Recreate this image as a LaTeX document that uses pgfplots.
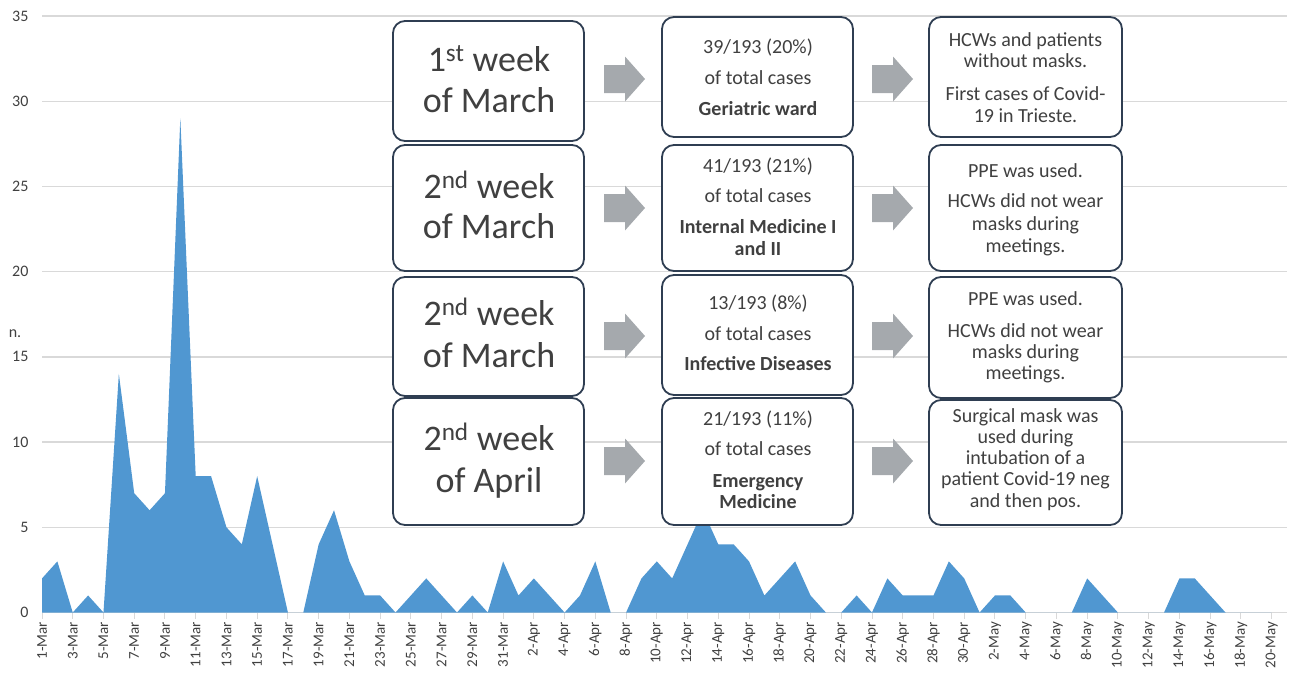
\documentclass[border=0pt]{standalone}
\usepackage{pgfplots}
\pgfplotsset{compat=1.18}
\usepackage{fontspec}
\setmainfont{Carlito}
\definecolor{areablue}{HTML}{5097D1}
\definecolor{gridc}{HTML}{D9D9D9}
\definecolor{txt}{HTML}{404040}
\definecolor{boxc}{HTML}{2F3E52}
\definecolor{arrc}{HTML}{A5A9AD}
\newcommand\T[3]{\node[anchor=base, text=txt, inner sep=0pt] at (#1pt,-#2pt) {#3};}
\newcommand\RBox[4]{\draw[boxc, line width=1.8pt, rounded corners=12pt, fill=white] (#1pt,-#2pt) rectangle (#3pt,-#4pt);}
\newcommand\Arr[2]{\fill[arrc] (#1pt,{-(#2-14)*1pt}) -- ({(#1+21)*1pt},{-(#2-14)*1pt}) -- ({(#1+21)*1pt},{-(#2-22.5)*1pt}) -- ({(#1+41)*1pt},-#2pt) -- ({(#1+21)*1pt},{-(#2+22.5)*1pt}) -- ({(#1+21)*1pt},{-(#2+14)*1pt}) -- (#1pt,{-(#2+14)*1pt}) -- cycle;}
\begin{document}
\begin{tikzpicture}
\useasboundingbox (0,0) rectangle (1292pt,-672pt);
\begin{axis}[
  at={(42pt,-612.5pt)}, anchor=south west,
  scale only axis, width=1245pt, height=596.5pt,
  xmin=0, xmax=81, ymin=0, ymax=35,
  ytick={0,5,...,35},
  xtick={0,2,...,80},
  xticklabels={1-Mar,3-Mar,5-Mar,7-Mar,9-Mar,11-Mar,13-Mar,15-Mar,17-Mar,19-Mar,21-Mar,23-Mar,25-Mar,27-Mar,29-Mar,31-Mar,2-Apr,4-Apr,6-Apr,8-Apr,10-Apr,12-Apr,14-Apr,16-Apr,18-Apr,20-Apr,22-Apr,24-Apr,26-Apr,28-Apr,30-Apr,2-May,4-May,6-May,8-May,10-May,12-May,14-May,16-May,18-May,20-May},
  ymajorgrids, grid style={gridc, line width=1.3pt},
  axis line style={draw=none},
  xtick pos=bottom, tick align=outside,
  major tick length=6pt,
  xtick style={gridc, line width=1pt},
  ytick style={draw=none},
  xticklabel style={rotate=90, anchor=east, font=\fontsize{15}{15}\selectfont, text=txt},
  yticklabel style={font=\fontsize{16}{16}\selectfont, text=txt, xshift=-4pt},
  /pgf/number format/assume math mode=true,
  clip=false,
]
\addplot[fill=areablue, draw=none] table {
x y
0 2
1 3
2 0
3 1
4 0
5 14
6 7
7 6
8 7
9 29
10 8
11 8
12 5
13 4
14 8
15 4
16 0
17 0
18 4
19 6
20 3
21 1
22 1
23 0
24 1
25 2
26 1
27 0
28 1
29 0
30 3
31 1
32 2
33 1
34 0
35 1
36 3
37 0
38 0
39 2
40 3
41 2
42 4
43 6
44 4
45 4
46 3
47 1
48 2
49 3
50 1
51 0
52 0
53 1
54 0
55 2
56 1
57 1
58 1
59 3
60 2
61 0
62 1
63 1
64 0
65 0
66 0
67 0
68 2
69 1
70 0
71 0
72 0
73 0
74 2
75 2
76 1
77 0
78 0
79 0
80 0
} \closedcycle;
\end{axis}
\node[anchor=base, text=txt, font=\fontsize{16}{16}\selectfont] at (15pt,-337pt) {n.};
% boxes
\RBox{393}{21}{584}{141}
\RBox{393}{145}{584}{271}
\RBox{393}{277}{584}{396}
\RBox{393}{398}{584}{525}
\RBox{662}{17}{853}{137}
\RBox{662}{145}{853}{271}
\RBox{662}{275}{853}{395}
\RBox{662}{398}{853}{525}
\RBox{929}{17}{1122}{137}
\RBox{929}{145}{1122}{271}
\RBox{929}{277}{1122}{398}
\RBox{929}{400}{1122}{525}
% arrows
\Arr{604}{79}\Arr{604}{208}\Arr{604}{336}\Arr{604}{461}
\Arr{872}{79}\Arr{872}{208}\Arr{872}{336}\Arr{872}{461}
% left texts
\begin{scope}[every node/.append style={font=\fontsize{36}{36}\selectfont}]
\T{489}{71}{1\textsuperscript{st} week}
\T{489}{112}{of March}
\T{489}{198}{2\textsuperscript{nd} week}
\T{489}{238}{of March}
\T{489}{325}{2\textsuperscript{nd} week}
\T{489}{367}{of March}
\T{489}{450}{2\textsuperscript{nd} week}
\T{489}{492}{of April}
\end{scope}
\begin{scope}[every node/.append style={font=\fontsize{20}{20}\selectfont}]
\T{758}{53}{39/193 (20\%)}
\T{758}{84}{of total cases}
\T{758}{115}{\textbf{Geriatric ward}}
\T{758}{172}{41/193 (21\%)}
\T{758}{202}{of total cases}
\T{758}{233}{\textbf{Internal Medicine I}}
\T{758}{255}{\textbf{and II}}
\T{758}{309}{13/193 (8\%)}
\T{758}{340}{of total cases}
\T{758}{370}{\textbf{Infective Diseases}}
\T{758}{425}{21/193 (11\%)}
\T{758}{455}{of total cases}
\T{758}{487}{\textbf{Emergency}}
\T{758}{508}{\textbf{Medicine}}
\T{1025.5}{46}{HCWs and patients}
\T{1025.5}{67}{without masks.}
\T{1025.5}{100}{First cases of Covid-}
\T{1025.5}{122}{19 in Trieste.}
\T{1025.5}{177}{PPE was used.}
\T{1025.5}{207}{HCWs did not wear}
\T{1025.5}{230}{masks during}
\T{1025.5}{252}{meetings.}
\T{1025.5}{305}{PPE was used.}
\T{1025.5}{337}{HCWs did not wear}
\T{1025.5}{358}{masks during}
\T{1025.5}{379}{meetings.}
\T{1025.5}{422}{Surgical mask was}
\T{1025.5}{443}{used during}
\T{1025.5}{464}{intubation of a}
\T{1025.5}{485}{patient Covid-19 neg}
\T{1025.5}{507}{and then pos.}
\end{scope}
\end{tikzpicture}
\end{document}
